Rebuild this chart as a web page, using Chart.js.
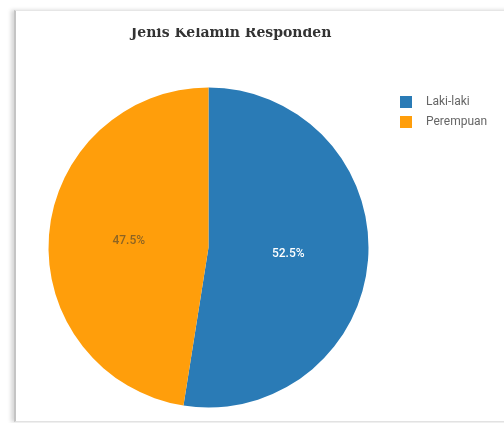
<!DOCTYPE html>
<html>
<head>
<meta charset="utf-8">
<script src="https://cdn.jsdelivr.net/npm/chart.js@4"></script>
<style>
  html, body { margin: 0; padding: 0; background: #fff; width: 504px; height: 423px; overflow: hidden; }
  #card {
    position: absolute; left: 14px; top: 10px; width: 540px; height: 410px;
    background: #fff;
    border-left: 2px solid #c4c4c4;
    border-top: 1px solid #e6e6e6;
    border-bottom: 1px solid #e2e2e2;
    box-shadow: -3px 0 4px rgba(0,0,0,0.16);
  }
  #clip { position: absolute; left: 0; top: 28px; width: 504px; height: 395px; overflow: hidden; }
  #wrap { position: absolute; left: -40px; top: -28px; width: 542px; height: 423px; }
</style>
</head>
<body>
<div id="card"></div>
<div id="clip"><div id="wrap"><canvas id="c" width="542" height="423"></canvas></div></div>
<script>
// Respondent gender split
const chartTitle = 'Jenis Kelamin Responden';
const categories = ['Laki-laki', 'Perempuan'];
const shares = [52.5, 47.5];
const sliceColors = ['#2a7bb6', '#ff9e0b'];
const labelColors = ['#ffffff', 'rgba(80,70,50,0.66)'];

// Heading, centred over the whole card rather than the pie
const heading = {
  id: 'heading',
  afterDraw(chart) {
    const ctx = chart.ctx;
    ctx.save();
    ctx.font = 'bold 14px "DejaVu Serif"';
    ctx.fillStyle = '#333';
    ctx.textAlign = 'center';
    ctx.textBaseline = 'alphabetic';
    ctx.fillText(chartTitle, 271, 36.5);
    ctx.restore();
  }
};

// Percentage text at the middle of each slice
const sliceLabels = {
  id: 'sliceLabels',
  afterDatasetsDraw(chart) {
    const ctx = chart.ctx;
    const meta = chart.getDatasetMeta(0);
    ctx.save();
    ctx.font = '500 12px Roboto';
    ctx.textAlign = 'center';
    ctx.textBaseline = 'middle';
    meta.data.forEach((arc, i) => {
      const p = arc.tooltipPosition();
      ctx.fillStyle = labelColors[i];
      ctx.fillText(shares[i].toFixed(1) + '%', p.x, p.y);
    });
    ctx.restore();
  }
};

// Legend column to the right of the pie
const sideLegend = {
  id: 'sideLegend',
  afterDraw(chart) {
    const ctx = chart.ctx;
    const x = chart.chartArea.right + 11.5;
    const top = 96;
    const pitch = 20;
    const box = 12;
    ctx.save();
    ctx.font = '12px Roboto';
    ctx.textAlign = 'left';
    ctx.textBaseline = 'middle';
    categories.forEach((name, i) => {
      const y = top + i * pitch;
      ctx.fillStyle = sliceColors[i];
      ctx.fillRect(x, y, box, box);
      ctx.fillStyle = '#666';
      ctx.fillText(name, x + 26, y + box / 2);
    });
    ctx.restore();
  }
};

new Chart(document.getElementById('c'), {
  type: 'pie',
  data: {
    labels: categories,
    datasets: [{
      data: shares,
      backgroundColor: sliceColors,
      borderWidth: 0
    }]
  },
  options: {
    responsive: false,
    animation: false,
    devicePixelRatio: 1,
    layout: { padding: { left: 68.5, right: 113.5, top: 87.5, bottom: 15.5 } },
    plugins: {
      title: { display: false },
      legend: { display: false },
      tooltip: { enabled: false }
    }
  },
  plugins: [heading, sliceLabels, sideLegend]
});
</script>
</body>
</html>
